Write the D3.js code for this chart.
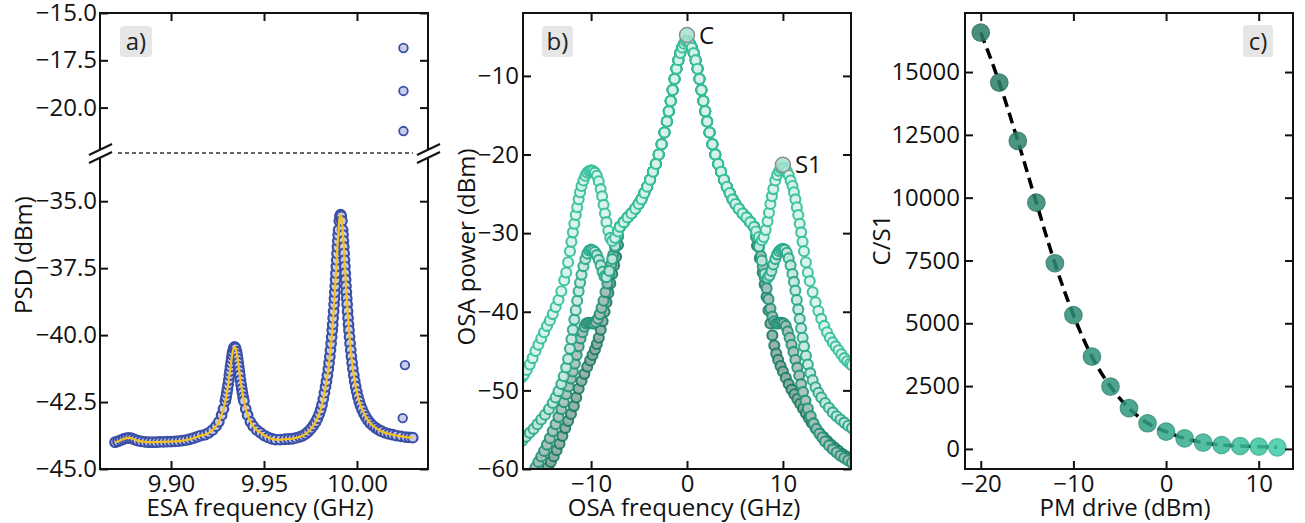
<!DOCTYPE html>
<meta charset="utf-8">
<script src="https://d3js.org/d3.v7.min.js"></script>
<style>
  body { margin: 0; background: #fff; }
</style>
<div id="my_dataviz"></div>
<script>
// ---------------- data ----------------
// a) ESA spectrum (GHz, dBm)
const esaFreq = [
  9.8699, 9.8715, 9.8730, 9.8745, 9.8760, 9.8775, 9.8790, 9.8805, 9.8820, 9.8840,
  9.8860, 9.8880, 9.8900, 9.8920, 9.8940, 9.8960, 9.8980, 9.9000, 9.9020, 9.9040,
  9.9060, 9.9080, 9.9100, 9.9120, 9.9140, 9.9160,
  9.9182, 9.9202, 9.9222, 9.9242, 9.9257, 9.9272, 9.9282, 9.9292, 9.9296, 9.9300,
  9.93035, 9.9307, 9.93105, 9.9314, 9.9317, 9.9320, 9.9323, 9.9326, 9.9329, 9.9332,
  9.9337, 9.9342, 9.9347, 9.9352, 9.9355, 9.9358, 9.9361, 9.9364, 9.9367, 9.9370,
  9.93735, 9.9377, 9.93805, 9.9384, 9.9388, 9.9392, 9.9402, 9.9412, 9.9427, 9.9442,
  9.9462, 9.9482, 9.9502, 9.9522, 9.9542,
  9.9562, 9.9587, 9.9612, 9.9632, 9.9652, 9.9672, 9.9692, 9.9707, 9.9722, 9.9737,
  9.9752, 9.9765, 9.9777, 9.9787, 9.9797, 9.9805, 9.9812, 9.9819, 9.9825, 9.9831,
  9.9836, 9.9841, 9.9846, 9.9850, 9.9854, 9.98575, 9.9861, 9.9864, 9.9867, 9.98695,
  9.9872, 9.98745, 9.9877, 9.9879, 9.9881, 9.9883, 9.9885, 9.9887, 9.9889, 9.9891,
  9.9893, 9.9895, 9.9897, 9.9899, 9.9901, 9.9905, 9.99085, 9.9912,
  9.99155, 9.9919, 9.9923, 9.9925, 9.9927, 9.9929, 9.9931, 9.9933, 9.9935, 9.9937,
  9.9939, 9.9941, 9.9943, 9.9945, 9.9947, 9.99495, 9.9952, 9.99545, 9.9957, 9.9960,
  9.9963, 9.99665, 9.9970, 9.9974, 9.9978, 9.9983, 9.9988, 9.9993, 9.9999, 10.0005,
  10.0012, 10.0019, 10.0027, 10.0037, 10.0047, 10.0059, 10.0072, 10.0087, 10.0102, 10.0117,
  10.0132, 10.0152, 10.0172, 10.0192, 10.0212, 10.0237, 10.0262, 10.0282, 10.0300
];
const esaPsd = [
  -44.00, -43.97, -43.92, -43.88, -43.85, -43.84, -43.86, -43.90, -43.94, -43.97,
  -43.99, -44.00, -44.00, -44.00, -43.99, -43.99, -43.98, -43.98, -43.97, -43.96,
  -43.94, -43.92, -43.89, -43.85, -43.80, -43.75,
  -43.72, -43.65, -43.55, -43.40, -43.24, -42.99, -42.76, -42.46, -42.32, -42.16,
  -42.01, -41.85, -41.68, -41.50, -41.34, -41.18, -41.03, -40.88, -40.74, -40.62,
  -40.49, -40.44, -40.49, -40.62, -40.74, -40.88, -41.03, -41.18, -41.34, -41.50,
  -41.68, -41.85, -42.01, -42.16, -42.32, -42.46, -42.76, -42.99, -43.24, -43.40,
  -43.55, -43.65, -43.75, -43.82, -43.87,
  -43.90, -43.90, -43.89, -43.88, -43.87, -43.84, -43.80, -43.76, -43.70, -43.61,
  -43.50, -43.38, -43.25, -43.11, -42.95, -42.78, -42.60, -42.38, -42.15, -41.93,
  -41.72, -41.50, -41.26, -41.04, -40.80, -40.56, -40.31, -40.07, -39.82, -39.60,
  -39.36, -39.11, -38.85, -38.63, -38.40, -38.17, -37.93, -37.69, -37.44, -37.20,
  -36.95, -36.71, -36.48, -36.26, -36.07, -35.74, -35.56, -35.50,
  -35.56, -35.74, -36.07, -36.26, -36.48, -36.71, -36.95, -37.20, -37.44, -37.69,
  -37.93, -38.17, -38.40, -38.63, -38.85, -39.11, -39.36, -39.60, -39.82, -40.07,
  -40.31, -40.56, -40.80, -41.04, -41.26, -41.50, -41.72, -41.92, -42.12, -42.30,
  -42.47, -42.63, -42.77, -42.92, -43.05, -43.18, -43.29, -43.39, -43.47, -43.54,
  -43.59, -43.65, -43.69, -43.72, -43.75, -43.78, -43.81, -43.82, -43.83
];
// stray points near 10.025 GHz
const esaOutFreq = [10.0250, 10.0250, 10.0250, 10.0258, 10.0246];
const esaOutPsd = [-16.85, -19.12, -21.24, -41.12, -43.10];

// b) OSA spectra (GHz, dBm): shared carrier region + wings of each trace
const osaCenterFreq = [-7.0, -6.6, -6.2, -5.8, -5.4, -5.05, -4.75, -4.45, -4.15, -3.85, -3.55, -3.25, -2.95, -2.65, -2.35, -2.1, -1.9, -1.7, -1.5, -1.3, -1.1, -0.9, -0.7, -0.5, -0.3, -0.1,
  0.1, 0.3, 0.5, 0.7, 0.9, 1.1, 1.3, 1.5, 1.7, 1.9, 2.1, 2.35, 2.65, 2.95, 3.25, 3.55, 3.85, 4.15, 4.45, 4.75, 5.05, 5.4, 5.8, 6.2, 6.6, 7.0];
const osaCenterPow = [-29.2, -28.6, -28.0, -27.5, -26.9, -26.3, -25.7, -24.9, -24.1, -23.2, -22.2, -21.2, -20.0, -18.7, -17.2, -15.8, -14.5, -13.2, -11.8, -10.4, -9.1, -8.0, -7.1, -6.4, -5.9, -5.6,
  -5.6, -5.9, -6.4, -7.1, -8.0, -9.1, -10.4, -11.8, -13.2, -14.5, -15.8, -17.2, -18.7, -20.0, -21.2, -22.2, -23.2, -24.1, -24.9, -25.7, -26.3, -26.9, -27.5, -28.0, -28.6, -29.2];

const t1LeftFreq = [-17.2, -17.0, -16.7, -16.4, -16.1, -15.8, -15.5, -15.2, -14.9, -14.6, -14.3, -14.0, -13.7, -13.4, -13.1, -12.8, -12.6, -12.4, -12.2, -12.05, -11.9, -11.75, -11.6, -11.45, -11.3, -11.15, -11.0, -10.8, -10.6, -10.4, -10.2, -10.0, -9.8, -9.6, -9.4, -9.2, -9.0, -8.85, -8.7, -8.55, -8.4, -8.2, -8.0, -7.8, -7.5, -7.2];
const t1LeftPow = [-48.3, -48.0, -47.4, -46.7, -45.9, -45.0, -44.2, -43.4, -42.6, -41.8, -41.1, -40.3, -39.4, -38.5, -37.4, -36.0, -35.0, -33.7, -32.3, -31.1, -29.9, -28.8, -27.7, -26.7, -25.7, -24.8, -24.0, -23.3, -22.7, -22.3, -22.1, -22.0, -22.1, -22.3, -22.7, -23.4, -24.4, -25.3, -26.4, -27.5, -28.6, -29.7, -30.6, -31.0, -30.6, -29.8];
const t1RightFreq = [7.2, 7.5, 7.8, 8.0, 8.2, 8.4, 8.55, 8.7, 8.85, 9.0, 9.2, 9.4, 9.6, 9.8, 10.0, 10.2, 10.4, 10.6, 10.8, 11.0, 11.15, 11.3, 11.45, 11.6, 11.75, 11.9, 12.05, 12.2, 12.4, 12.6, 12.8, 13.1, 13.4, 13.7, 14.0, 14.3, 14.6, 14.9, 15.2, 15.5, 15.8, 16.1, 16.4, 16.7, 17.0, 17.2];
const t1RightPow = [-29.8, -30.5, -30.9, -30.5, -29.6, -28.5, -27.4, -26.3, -25.3, -24.4, -23.3, -22.6, -22.1, -21.8, -21.7, -21.8, -22.1, -22.6, -23.3, -24.0, -24.8, -25.7, -26.7, -27.7, -28.8, -29.9, -31.1, -32.3, -33.7, -35.0, -36.1, -37.5, -38.8, -39.9, -40.9, -41.8, -42.6, -43.3, -43.9, -44.4, -44.9, -45.4, -45.9, -46.3, -46.6, -46.8];

const t2LeftFreq = [-17.2, -16.8, -16.4, -16.0, -15.6, -15.2, -14.8, -14.4, -14.0, -13.7, -13.4, -13.1, -12.85, -12.6, -12.4, -12.2, -12.05, -11.9, -11.75, -11.6, -11.45, -11.3, -11.15, -11.0, -10.8, -10.6, -10.4, -10.2, -10.0, -9.8, -9.6, -9.4, -9.2, -9.0, -8.8, -8.6, -8.4, -8.1, -7.8, -7.5, -7.2];
const t2LeftPow = [-56.4, -55.9, -55.4, -54.9, -54.3, -53.7, -53.1, -52.4, -51.6, -50.9, -50.1, -49.2, -48.2, -47.1, -46.0, -44.7, -43.5, -42.3, -41.0, -39.8, -38.6, -37.4, -36.3, -35.3, -34.2, -33.3, -32.6, -32.2, -32.1, -32.2, -32.4, -32.8, -33.4, -34.1, -34.9, -35.5, -35.6, -34.8, -33.3, -31.6, -30.2];
const t2RightFreq = [7.2, 7.5, 7.8, 8.1, 8.4, 8.6, 8.8, 9.0, 9.2, 9.4, 9.6, 9.8, 10.0, 10.2, 10.4, 10.6, 10.8, 11.0, 11.15, 11.3, 11.45, 11.6, 11.75, 11.9, 12.05, 12.2, 12.4, 12.6, 12.85, 13.1, 13.4, 13.7, 14.0, 14.4, 14.8, 15.2, 15.6, 16.0, 16.4, 16.8, 17.2];
const t2RightPow = [-30.2, -31.7, -33.5, -35.2, -35.7, -35.4, -34.8, -34.0, -33.3, -32.7, -32.3, -32.1, -32.0, -32.1, -32.5, -33.2, -34.1, -35.2, -36.2, -37.3, -38.5, -39.7, -40.9, -42.1, -43.3, -44.4, -45.6, -46.7, -47.8, -48.7, -49.6, -50.3, -50.9, -51.6, -52.2, -52.8, -53.3, -53.7, -54.1, -54.5, -54.8];

const t3LeftFreq = [-16.5, -16.1, -15.8, -15.5, -15.2, -14.9, -14.6, -14.3, -14.0, -13.7, -13.4, -13.1, -12.85, -12.6, -12.35, -12.1, -11.9, -11.7, -11.5, -11.3, -11.1, -10.9, -10.7, -10.5, -10.3, -10.1, -9.9, -9.7, -9.5, -9.3, -9.1, -8.9, -8.7, -8.5, -8.3, -8.1, -7.9, -7.7, -7.5, -7.2];
const t3LeftPow = [-61.3, -60.5, -59.8, -59.1, -58.4, -57.7, -56.9, -56.1, -55.2, -54.3, -53.4, -52.4, -51.5, -50.5, -49.5, -48.5, -47.6, -46.6, -45.5, -44.4, -43.4, -42.6, -41.9, -41.5, -41.4, -41.4, -41.5, -41.5, -41.3, -40.9, -40.3, -39.5, -38.6, -37.5, -36.4, -35.2, -34.0, -32.8, -31.8, -30.5];
const t3RightFreq = [7.2, 7.5, 7.7, 7.9, 8.1, 8.3, 8.5, 8.7, 8.9, 9.1, 9.3, 9.5, 9.7, 9.9, 10.1, 10.3, 10.5, 10.7, 10.9, 11.1, 11.3, 11.5, 11.7, 11.9, 12.1, 12.35, 12.6, 12.9, 13.2, 13.5, 13.8, 14.1, 14.4, 14.8, 15.2, 15.6, 16.0, 16.4, 16.8, 17.2];
const t3RightPow = [-30.5, -31.8, -32.9, -34.2, -35.6, -37.0, -38.4, -39.6, -40.6, -41.2, -41.5, -41.5, -41.4, -41.4, -41.5, -41.8, -42.5, -43.3, -44.2, -45.1, -46.1, -47.1, -48.1, -49.2, -50.2, -51.3, -52.3, -53.3, -54.2, -54.9, -55.5, -56.0, -56.5, -57.0, -57.5, -57.9, -58.3, -58.6, -58.9, -59.2];

const t4LeftFreq = [-15.1, -14.8, -14.5, -14.2, -13.9, -13.6, -13.3, -13.0, -12.7, -12.4, -12.1, -11.8, -11.55, -11.3, -11.0, -10.7, -10.4, -10.1, -9.85, -9.6, -9.4, -9.2, -9.0, -8.8, -8.6, -8.4, -8.2, -8.0, -7.8, -7.6, -7.4, -7.2];
const t4LeftPow = [-61.2, -60.5, -59.8, -59.1, -58.4, -57.6, -56.8, -55.8, -54.8, -53.9, -53.0, -52.0, -50.9, -49.8, -48.8, -47.9, -47.0, -46.2, -45.5, -44.8, -44.1, -43.3, -42.3, -41.2, -40.0, -38.8, -37.6, -36.4, -35.2, -34.1, -33.0, -31.5];
const t4RightFreq = [7.3, 7.6, 7.9, 8.1, 8.3, 8.5, 8.7, 8.9, 9.1, 9.3, 9.5, 9.75, 10.0, 10.3, 10.6, 10.9, 11.2, 11.5, 11.8, 12.1, 12.4, 12.7, 13.0, 13.4, 13.8, 14.2, 14.6, 15.0, 15.4, 15.8, 16.2, 16.6, 17.0, 17.2];
const t4RightPow = [-31.6, -33.2, -35.0, -36.5, -38.1, -39.8, -41.5, -43.0, -44.3, -45.3, -46.1, -46.9, -47.6, -48.4, -49.2, -49.9, -50.5, -51.1, -51.7, -52.3, -52.9, -53.5, -54.1, -54.8, -55.4, -55.9, -56.4, -56.9, -57.3, -57.7, -58.1, -58.4, -58.7, -58.9];

// carrier and first sideband picks
const peakNames = ["C", "S1"];
const peakFreq = [0, 10.0];
const peakPow = [-4.8, -21.3];

// c) carrier / first sideband ratio vs phase modulator drive
const pmDrive = [-20, -18, -16, -14, -12, -10, -8, -6, -4, -2, 0, 2, 4, 6, 8, 10, 12];
const cOverS1 = [16570, 14580, 12260, 9800, 7390, 5330, 3670, 2480, 1620, 1020, 685, 420, 250, 155, 115, 88, 64];

// tick values
const aTopTicks = [-15, -17.5, -20];
const aBotTicks = [-35, -37.5, -40, -42.5, -45];
const aXTicks = [9.90, 9.95, 10.00];
const bYTicks = [-10, -20, -30, -40, -50, -60];
const bXTicks = [-10, 0, 10];
const cYTicks = [0, 2500, 5000, 7500, 10000, 12500, 15000];
const cXTicks = [-20, -10, 0, 10];

// ---------------- drawing ----------------
const FONT = '"Open Sans", sans-serif';
const FS = 24;
const svg = d3.select("#my_dataviz").append("svg")
  .attr("width", 1305).attr("height", 523)
  .style("background", "#fff");

const zip = (xs, ys) => xs.map((x, i) => ({ x: x, y: ys[i] }));

function styleAxis(g, hideLabels) {
  g.select(".domain").remove();
  g.selectAll(".tick line").attr("stroke", "#111").attr("stroke-width", 2);
  g.selectAll(".tick text").attr("font-family", FONT).attr("font-size", FS).attr("fill", "#111");
  if (hideLabels) g.selectAll(".tick text").remove();
}

function spine(x1, y1, x2, y2) {
  svg.append("line").attr("x1", x1).attr("y1", y1).attr("x2", x2).attr("y2", y2)
    .attr("stroke", "#111").attr("stroke-width", 2).attr("stroke-linecap", "square");
}

function panelLabel(x, y, w, h, txt) {
  svg.append("rect").attr("x", x).attr("y", y).attr("width", w).attr("height", h)
    .attr("rx", 4).attr("fill", "#e6e6e6");
  svg.append("text").attr("x", x + w / 2).attr("y", y + h / 2 + 8.5)
    .attr("text-anchor", "middle").attr("font-family", FONT).attr("font-size", FS)
    .attr("fill", "#222").text(txt);
}

function axisTitle(x, y, txt, rotate) {
  svg.append("text")
    .attr("transform", `translate(${x},${y})` + (rotate ? " rotate(-90)" : ""))
    .attr("text-anchor", "middle").attr("font-family", FONT).attr("font-size", FS)
    .attr("fill", "#111").text(txt);
}

// ===== panel a =====
const aL = 100, aR = 428, aT = 13, aB = 469, aBreak = 153;
const xa = d3.scaleLinear().domain([9.8618, 10.0382]).range([aL, aR]);
const yaTop = d3.scaleLinear().domain([-22.4, -15]).range([aBreak, aT]);
const yaBot = d3.scaleLinear().domain([-45, -33.2]).range([aB, aBreak]);
const fmt1 = d3.format(".1f");

svg.append("g").attr("transform", `translate(${aL},0)`)
  .call(d3.axisLeft(yaTop).tickValues(aTopTicks).tickFormat(fmt1).tickSize(-8).tickPadding(3))
  .call(styleAxis);
svg.append("g").attr("transform", `translate(${aL},0)`)
  .call(d3.axisLeft(yaBot).tickValues(aBotTicks).tickFormat(fmt1).tickSize(-8).tickPadding(3))
  .call(styleAxis);
svg.append("g").attr("transform", `translate(${aR},0)`)
  .call(d3.axisRight(yaTop).tickValues(aTopTicks).tickSize(-8))
  .call(g => styleAxis(g, true));
svg.append("g").attr("transform", `translate(${aR},0)`)
  .call(d3.axisRight(yaBot).tickValues(aBotTicks).tickSize(-8))
  .call(g => styleAxis(g, true));
svg.append("g").attr("transform", `translate(0,${aB})`)
  .call(d3.axisBottom(xa).tickValues(aXTicks).tickFormat(d3.format(".2f")).tickSize(-8).tickPadding(6))
  .call(styleAxis);
svg.append("g").attr("transform", `translate(0,${aT})`)
  .call(d3.axisTop(xa).tickValues(aXTicks).tickSize(-8))
  .call(g => styleAxis(g, true));

// broken frame
spine(aL, aT, aR, aT);
spine(aL, aB, aR, aB);
spine(aL, aT, aL, 149);
spine(aL, 158, aL, aB);
spine(aR, aT, aR, 149);
spine(aR, 158, aR, aB);
[aL, aR].forEach(x => {
  [[155, 144], [163, 152]].forEach(([ya, yb]) => {
    svg.append("line").attr("x1", x - 11).attr("y1", ya).attr("x2", x + 12).attr("y2", yb)
      .attr("stroke", "#111").attr("stroke-width", 2);
  });
});
svg.append("line").attr("x1", 118).attr("x2", 413).attr("y1", aBreak).attr("y2", aBreak)
  .attr("stroke", "#333").attr("stroke-width", 1.3).attr("stroke-dasharray", "4,3");

const esa = zip(esaFreq, esaPsd);
const esaOut = zip(esaOutFreq, esaOutPsd);
const esaMarker = sel => sel.attr("r", 4.8).attr("fill", "#c9cdea").attr("stroke", "#3b4fa7").attr("stroke-width", 2.2);

svg.append("g").selectAll("circle").data(esa).join("circle")
  .attr("cx", d => xa(d.x)).attr("cy", d => yaBot(d.y)).call(esaMarker);
svg.append("g").selectAll("circle").data(esaOut).join("circle")
  .attr("cx", d => xa(d.x)).attr("cy", d => d.y > -33.2 ? yaTop(d.y) : yaBot(d.y))
  .call(esaMarker).attr("r", 4.3).attr("stroke-width", 1.8);

svg.append("path").datum(esa)
  .attr("d", d3.line().x(d => xa(d.x)).y(d => yaBot(d.y)).curve(d3.curveMonotoneX))
  .attr("fill", "none").attr("stroke", "#f5c21b").attr("stroke-width", 2.2);

panelLabel(120, 26, 32, 31, "a)");
axisTitle(32, 255, "PSD (dBm)", true);
axisTitle(260, 516, "ESA frequency (GHz)", false);

// ===== panel b =====
const bL = 523, bR = 851, bT = 13, bB = 469;
const xb = d3.scaleLinear().domain([-17.1, 17.1]).range([bL, bR]);
const yb = d3.scaleLinear().domain([-60, -2]).range([bB, bT]);

svg.append("defs").append("clipPath").attr("id", "clipB")
  .append("rect").attr("x", bL).attr("y", bT).attr("width", bR - bL).attr("height", bB - bT);

const traces = [
  { name: "t4", freq: t4LeftFreq.concat(osaCenterFreq, t4RightFreq), pow: t4LeftPow.concat(osaCenterPow, t4RightPow), stroke: "#1c7b63", fill: "#8eaea4" },
  { name: "t3", freq: t3LeftFreq.concat(osaCenterFreq, t3RightFreq), pow: t3LeftPow.concat(osaCenterPow, t3RightPow), stroke: "#23937a", fill: "#a9c2ba" },
  { name: "t2", freq: t2LeftFreq.concat(osaCenterFreq, t2RightFreq), pow: t2LeftPow.concat(osaCenterPow, t2RightPow), stroke: "#2aa98a", fill: "#c6e8de" },
  { name: "t1", freq: t1LeftFreq.concat(osaCenterFreq, t1RightFreq), pow: t1LeftPow.concat(osaCenterPow, t1RightPow), stroke: "#35c09c", fill: "#daf4ec" }
];

const bPlot = svg.append("g").attr("clip-path", "url(#clipB)");
traces.forEach(t => {
  bPlot.append("g").attr("class", t.name).selectAll("circle").data(zip(t.freq, t.pow)).join("circle")
    .attr("cx", d => xb(d.x)).attr("cy", d => yb(d.y)).attr("r", 5)
    .attr("fill", t.fill).attr("stroke", t.stroke).attr("stroke-width", 2.1).attr("opacity", 0.92);
});

const peaks = peakNames.map((n, i) => ({ name: n, x: peakFreq[i], y: peakPow[i] }));
svg.append("g").selectAll("circle").data(peaks).join("circle")
  .attr("cx", d => xb(d.x)).attr("cy", d => yb(d.y)).attr("r", 7.5)
  .attr("fill", "#a6e0cf").attr("fill-opacity", 0.85).attr("stroke", "#8f8f8f").attr("stroke-width", 1.5);
svg.append("g").selectAll("text").data(peaks).join("text")
  .attr("x", d => xb(d.x) + 12).attr("y", d => yb(d.y) + 8.5)
  .attr("font-family", FONT).attr("font-size", FS).attr("fill", "#111").text(d => d.name);

svg.append("g").attr("transform", `translate(${bL},0)`)
  .call(d3.axisLeft(yb).tickValues(bYTicks).tickSize(-8).tickPadding(4)).call(styleAxis);
svg.append("g").attr("transform", `translate(${bR},0)`)
  .call(d3.axisRight(yb).tickValues(bYTicks).tickSize(-8)).call(g => styleAxis(g, true));
svg.append("g").attr("transform", `translate(0,${bB})`)
  .call(d3.axisBottom(xb).tickValues(bXTicks).tickSize(-8).tickPadding(6)).call(styleAxis);
svg.append("g").attr("transform", `translate(0,${bT})`)
  .call(d3.axisTop(xb).tickValues(bXTicks).tickSize(-8)).call(g => styleAxis(g, true));
svg.append("rect").attr("x", bL).attr("y", bT).attr("width", bR - bL).attr("height", bB - bT)
  .attr("fill", "none").attr("stroke", "#111").attr("stroke-width", 2);

panelLabel(542, 26, 31, 31, "b)");
axisTitle(475, 247, "OSA power (dBm)", true);
axisTitle(684, 516, "OSA frequency (GHz)", false);

// ===== panel c =====
const cL = 965, cR = 1293, cT = 13, cB = 469;
const xc = d3.scaleLinear().domain([-21.7, 13.7]).range([cL, cR]);
const yc = d3.scaleLinear().domain([-800, 17350]).range([cB, cT]);
const cColor = d3.scaleLinear().domain([0, 8, 16]).range(["#2b7b66", "#2e9a7f", "#3ecba6"]);

const ratio = zip(pmDrive, cOverS1);
svg.append("path").datum(ratio)
  .attr("d", d3.line().x(d => xc(d.x)).y(d => yc(d.y)).curve(d3.curveMonotoneX))
  .attr("fill", "none").attr("stroke", "#000").attr("stroke-width", 3.5).attr("stroke-dasharray", "11,6");
svg.append("g").selectAll("circle").data(ratio).join("circle")
  .attr("cx", d => xc(d.x)).attr("cy", d => yc(d.y)).attr("r", 8.6)
  .attr("fill", (d, i) => cColor(i)).attr("stroke", (d, i) => d3.color(cColor(i)).darker(0.35))
  .attr("stroke-width", 1.5).attr("opacity", 0.85);

svg.append("g").attr("transform", `translate(${cL},0)`)
  .call(d3.axisLeft(yc).tickValues(cYTicks).tickFormat(d3.format("d")).tickSize(-8).tickPadding(5)).call(styleAxis);
svg.append("g").attr("transform", `translate(${cR},0)`)
  .call(d3.axisRight(yc).tickValues(cYTicks).tickSize(-8)).call(g => styleAxis(g, true));
svg.append("g").attr("transform", `translate(0,${cB})`)
  .call(d3.axisBottom(xc).tickValues(cXTicks).tickSize(-8).tickPadding(6)).call(styleAxis);
svg.append("g").attr("transform", `translate(0,${cT})`)
  .call(d3.axisTop(xc).tickValues(cXTicks).tickSize(-8)).call(g => styleAxis(g, true));
svg.append("rect").attr("x", cL).attr("y", cT).attr("width", cR - cL).attr("height", cB - cT)
  .attr("fill", "none").attr("stroke", "#111").attr("stroke-width", 2);

panelLabel(1243, 25, 30, 32, "c)");
axisTitle(890, 240, "C/S1", true);
axisTitle(1125, 516, "PM drive (dBm)", false);
</script>
